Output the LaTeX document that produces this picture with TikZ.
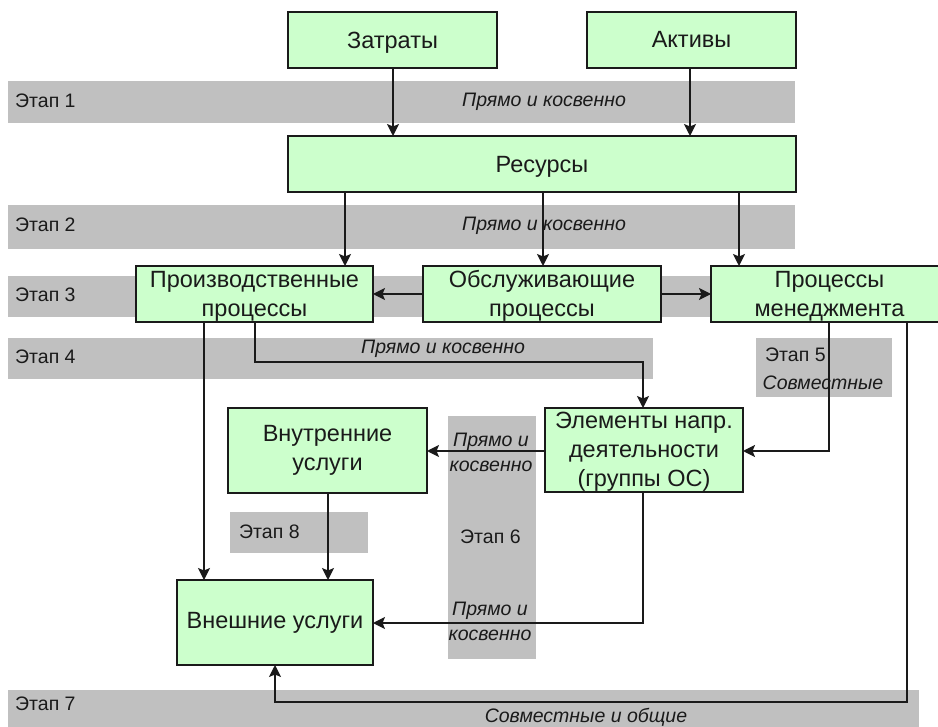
\documentclass[tikz,border=0pt]{standalone}
\usepackage{fontspec}
\setmainfont{Liberation Sans}
\usetikzlibrary{arrows.meta}
\definecolor{boxgreen}{HTML}{CCFFCC}
\definecolor{band}{HTML}{C0C0C0}
\definecolor{ink}{HTML}{1A1A1A}
\newcommand{\lowertext}{\rule{0pt}{20pt}}
\tikzset{x=1pt,y=-1pt,
 bandbox/.style={fill=band,draw=none,inner sep=0,outer sep=0,anchor=north west},
 greenbox/.style={fill=boxgreen,draw=ink,line width=1.4pt,align=center,inner sep=0,outer sep=0,text=ink,font=\fontsize{23.5}{29}\selectfont,anchor=north west},
 stagelabel/.style={font=\fontsize{19.5}{23}\selectfont,inner sep=0,anchor=west,text=ink},
 italiclabel/.style={font=\itshape\fontsize{19.5}{25}\selectfont,inner sep=0,align=center,text=ink},
 conn/.style={draw=ink,line width=1.4pt,-{Stealth[length=12pt,width=12pt,inset=2.5pt]}}}
\begin{document}
\begin{tikzpicture}
\useasboundingbox (0,0) rectangle (938,727);
\clip (0,0) rectangle (938,727);
\fill[white] (0,0) rectangle (938,727);
\node[bandbox,minimum width=787,minimum height=42] at (8,81) (b1) {};
\node[bandbox,minimum width=787,minimum height=44] at (8,205) (b2) {};
\node[bandbox,minimum width=787,minimum height=41] at (8,276) (b3) {};
\node[bandbox,minimum width=645,minimum height=41] at (8,338) (b4) {};
\node[bandbox,minimum width=136,minimum height=59] at (756,338) (b5) {};
\node[bandbox,minimum width=88,minimum height=243] at (448,416) (b6) {};
\node[bandbox,minimum width=911,minimum height=37] at (8,690) (b7) {};
\node[bandbox,minimum width=138,minimum height=41] at (230,512) (b8) {};
\node[stagelabel] at (15,101) (s1) {Этап 1};
\node[stagelabel] at (15,225) (s2) {Этап 2};
\node[stagelabel] at (15,295) (s3) {Этап 3};
\node[stagelabel] at (15,357) (s4) {Этап 4};
\node[stagelabel] at (765,355) (s5) {Этап 5};
\node[stagelabel] at (460,537) (s6) {Этап 6};
\node[stagelabel] at (15,704) (s7) {Этап 7};
\node[stagelabel] at (239,532) (s8) {Этап 8};
\node[greenbox,minimum width=209,minimum height=56] at (288,12) (zat) {\rule{0pt}{21pt}Затраты};
\node[greenbox,minimum width=209,minimum height=56] at (587,12) (akt) {\rule[-2pt]{0pt}{2pt}Активы};
\node[greenbox,minimum width=508,minimum height=56] at (288,136) (res) {\rule{0pt}{21pt}Ресурсы};
\node[greenbox,minimum width=237,minimum height=56] at (136,266) (pro) {\lowertext Производственные\\процессы};
\node[greenbox,minimum width=238,minimum height=56] at (423,266) (obs) {\lowertext Обслуживающие\\процессы};
\node[greenbox,minimum width=237,minimum height=56] at (711,266) (men) {\lowertext Процессы\\менеджмента};
\node[greenbox,minimum width=198,minimum height=84] at (545,408) (ele) {\lowertext Элементы напр.\\деятельности\\(группы ОС)};
\node[greenbox,minimum width=199,minimum height=85] at (228,408) (vnu) {Внутренние\\услуги};
\node[greenbox,minimum width=196,minimum height=85] at (177,580) (vne) {Внешние услуги};
\node[italiclabel] at (544,102) (l1) {Прямо и косвенно};
\node[italiclabel] at (544,226) (l2) {Прямо и косвенно};
\node[italiclabel] at (443,349) (l4) {Прямо и косвенно};
\node[italiclabel] at (491,452) (l6a) {Прямо и\\косвенно};
\node[italiclabel] at (490,621) (l6b) {Прямо и\\косвенно};
\node[italiclabel] at (823,383) (l5) {Совместные};
\node[italiclabel] at (586,717) (l7) {Совместные и общие};
\draw[conn] (zat.south -| 393,0) -- (res.north -| 393,0);
\draw[conn] (akt.south -| 690,0) -- (res.north -| 690,0);
\draw[conn] (res.south -| 345,0) -- (pro.north -| 345,0);
\draw[conn] (res.south -| 543,0) -- (obs.north -| 543,0);
\draw[conn] (res.south -| 739,0) -- (men.north -| 739,0);
\draw[conn] (obs.west) -- (pro.east);
\draw[conn] (obs.east) -- (men.west);
\draw[conn] (pro.south -| 255,0) -- (255,362) -- (643,362) -- (ele.north -| 643,0);
\draw[conn] (pro.south -| 204,0) -- (vne.north -| 204,0);
\draw[conn] (men.south -| 829,0) -- (829,451) -- (ele.east |- 0,451);
\draw[conn] (ele.west |- 0,451) -- (vnu.east |- 0,451);
\draw[conn] (vnu.south -| 328,0) -- (vne.north -| 328,0);
\draw[conn] (ele.south -| 643,0) -- (643,623) -- (vne.east |- 0,623);
\draw[conn] (men.south -| 907,0) -- (907,702) -- (275,702) -- (vne.south -| 275,0);
\end{tikzpicture}
\end{document}
